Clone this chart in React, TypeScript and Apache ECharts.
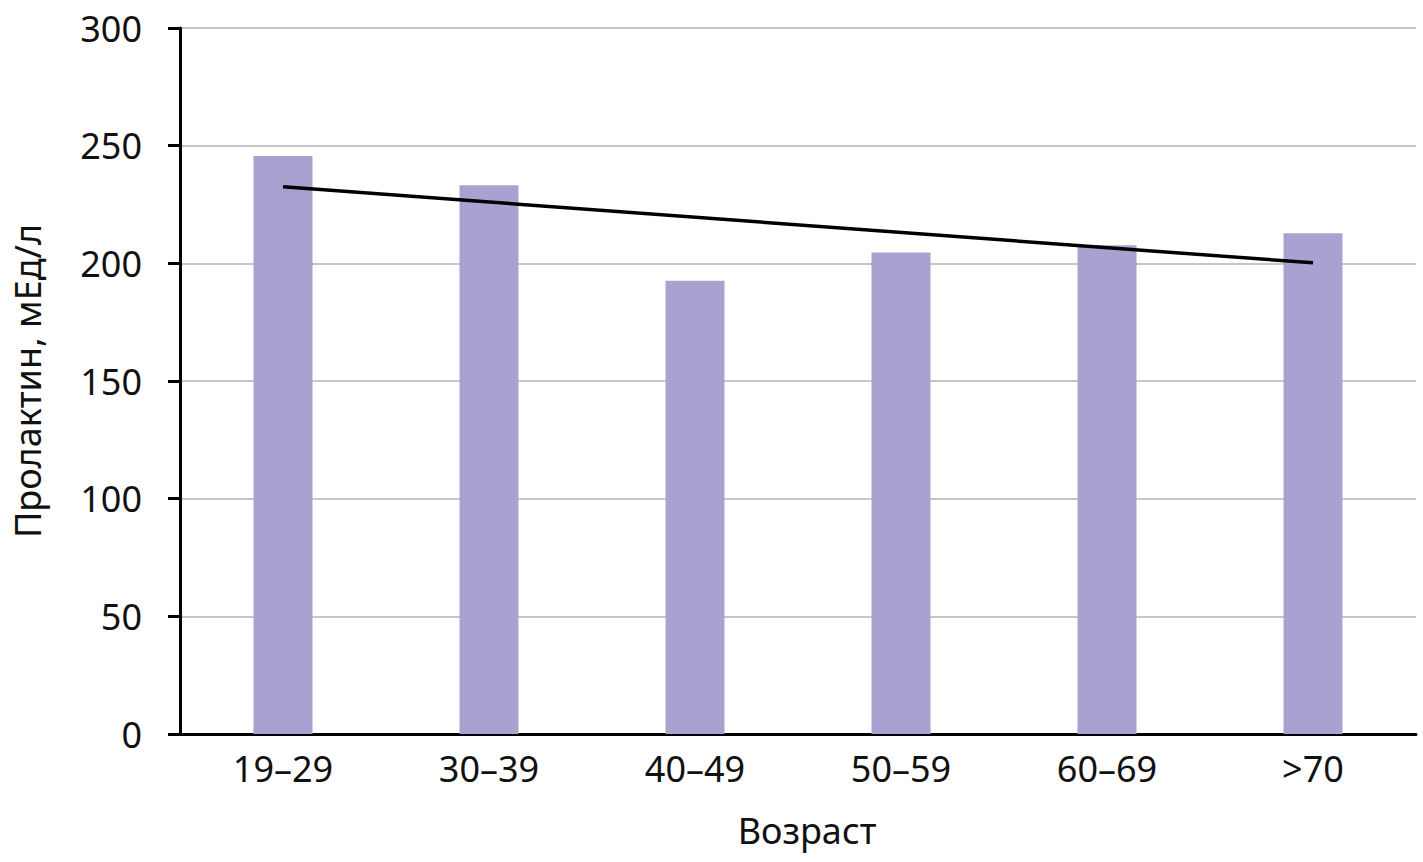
import React, { useEffect, useRef } from "react";
import * as echarts from "echarts";

const categories = ["19–29", "30–39", "40–49", "50–59", "60–69", ">70"];
const prolactin = [245.6, 233.2, 192.6, 204.6, 207.7, 212.8];
const trend = [232.5, null, null, null, null, 200.2];
const yTicks = { min: 0, max: 300, interval: 50 };

export default function App() {
  const ref = useRef<HTMLDivElement>(null);
  useEffect(() => {
    document.body.style.margin = "0";
    const chart = echarts.init(ref.current!, null, { renderer: "svg" });
    const font = "'Noto Sans', 'Open Sans', sans-serif";
    chart.setOption({
      animation: false,
      backgroundColor: "#ffffff",
      grid: { left: 180, right: 7, top: 28, bottom: 128 },
      xAxis: {
        type: "category",
        data: categories,
        name: "Возраст",
        nameLocation: "middle",
        nameGap: 78,
        nameTextStyle: { fontSize: 36, color: "#111", fontFamily: font, padding: [0, 0, 0, 18] },
        axisLine: { lineStyle: { color: "#000", width: 3 } },
        axisTick: { show: false },
        axisLabel: { fontSize: 36, color: "#111", fontFamily: font, margin: 16 },
        splitLine: { show: false },
      },
      yAxis: {
        type: "value",
        min: yTicks.min,
        max: yTicks.max,
        interval: yTicks.interval,
        name: "Пролактин, мЕд/л",
        nameLocation: "middle",
        nameGap: 135,
        nameTextStyle: { fontSize: 36, color: "#111", fontFamily: font },
        axisLine: { show: true, lineStyle: { color: "#000", width: 3 } },
        axisTick: { show: true, length: 12, lineStyle: { color: "#000", width: 3 } },
        axisLabel: { fontSize: 36, color: "#111", fontFamily: font, margin: 38 },
        splitLine: { lineStyle: { color: "#b3b3b3", width: 1.5 } },
      },
      series: [
        {
          type: "bar",
          data: prolactin,
          barWidth: 59,
          itemStyle: { color: "#a7a2cf" },
          z: 2,
        },
        {
          type: "line",
          data: trend,
          connectNulls: true,
          symbol: "none",
          lineStyle: { color: "#000", width: 3.5 },
          z: 3,
        },
      ],
    });
    return () => chart.dispose();
  }, []);
  return <div ref={ref} style={{ width: 1423, height: 862 }} />;
}
